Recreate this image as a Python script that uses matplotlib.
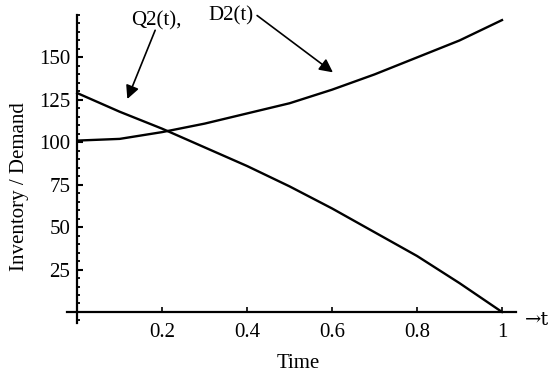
import matplotlib
matplotlib.use("Agg")
import matplotlib.pyplot as plt
from matplotlib.ticker import FixedLocator, MultipleLocator, FixedFormatter

plt.rcParams['font.family'] = ['Liberation Serif', 'DejaVu Serif']

t = [0.0, 0.1, 0.2, 0.3, 0.4, 0.5, 0.6, 0.7, 0.8, 0.9, 1.0]
D2 = [101, 102, 106, 111, 117, 123, 131, 140, 150, 160, 172]
Q2 = [129, 118, 108, 97, 86, 74, 61, 47, 33, 17, 0]
xticks = [0.2, 0.4, 0.6, 0.8, 1.0]
xticklabels = ['0.2', '0.4', '0.6', '0.8', '1']
yticks = [25, 50, 75, 100, 125, 150]

fig = plt.figure(figsize=(5.52, 3.77), dpi=100)
ax = fig.add_axes([0.1214, 0.1432, 0.8134, 0.8170])
ax.set_xlim(-0.024, 1.033)
ax.set_ylim(-6.5, 175)

ax.plot(t, D2, color='black', lw=1.7)
ax.plot(t, Q2, color='black', lw=1.7)

for s in ['top', 'right']:
    ax.spines[s].set_visible(False)
ax.spines['left'].set_position(('data', 0))
ax.spines['bottom'].set_position(('data', 0))
ax.spines['left'].set_linewidth(1.6)
ax.spines['bottom'].set_linewidth(1.6)

ax.xaxis.set_major_locator(FixedLocator(xticks))
ax.xaxis.set_major_formatter(FixedFormatter(xticklabels))
ax.yaxis.set_major_locator(FixedLocator(yticks))
ax.yaxis.set_minor_locator(MultipleLocator(5))
ax.tick_params(axis='x', direction='in', length=3.5, width=1.2, pad=8, labelsize=15)
ax.tick_params(axis='y', which='major', direction='in', length=4.5, width=1.5, pad=5, labelsize=15)
ax.tick_params(axis='y', which='minor', direction='in', length=2.5, width=1.3)

arrow = dict(arrowstyle='-|>', color='black', lw=1.2, mutation_scale=20, shrinkA=0, shrinkB=0)
ax.text(0.186, 171.8, 'Q2(t),', fontsize=15, ha='center', va='center')
ax.annotate('', xy=(0.118, 125.5), xytext=(0.1835, 166), arrowprops=arrow, annotation_clip=False)
ax.text(0.308, 174.7, 'D2(t)', fontsize=15, ha='left', va='center', clip_on=False)
ax.annotate('', xy=(0.602, 141.2), xytext=(0.4235, 174.7), arrowprops=arrow, annotation_clip=False)
ax.text(1.055, -4.7, '\u2192t', fontsize=14, ha='left', va='center', clip_on=False,
        family=['DejaVu Serif', 'Liberation Serif'])

fig.text(298/552, 1 - 363/377, 'Time', fontsize=15, ha='center', va='center')
fig.text(20/552, 1 - 187/377, 'Inventory / Demand', fontsize=15, ha='center', va='center', rotation=90)

fig.savefig('out.png', dpi=100)
